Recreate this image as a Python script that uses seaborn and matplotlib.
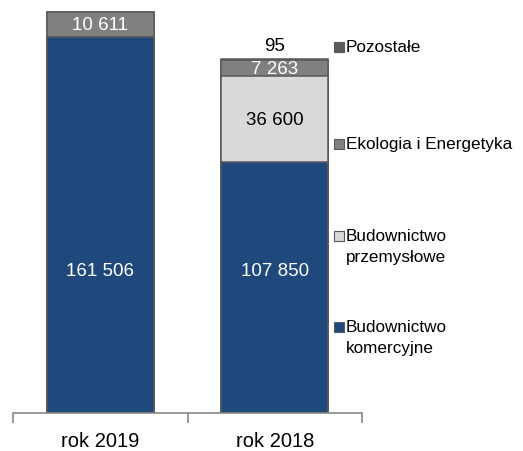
import matplotlib
matplotlib.use("Agg")
import matplotlib.pyplot as plt
import matplotlib.patches as mpatches
import seaborn as sns
import pandas as pd
import numpy as np

# dane
kategorie = ["rok 2019", "rok 2018"]
komercyjne = [161506, 107850]
przemyslowe = [0, 36600]
ekologia = [10611, 7263]
pozostale = [0, 95]

serie = ["Budownictwo\nkomercyjne", "Budownictwo\nprzemysłowe", "Ekologia i Energetyka", "Pozostałe"]
kolory = ["#1F497D", "#D9D9D9", "#808080", "#595959"]

sns.set_style("white")
plt.rcParams["font.family"] = ["Liberation Sans Narrow", "Liberation Sans", "DejaVu Sans"]
plt.rcParams["text.color"] = "black"
plt.rcParams["xtick.color"] = "black"

fig = plt.figure(figsize=(5.23, 4.52), dpi=100)
ax = fig.add_axes([13 / 523, 38 / 452, 349 / 523, 414 / 452])

wartosci = np.array([komercyjne, przemyslowe, ekologia, pozostale])
skum = np.cumsum(wartosci, axis=0)

# slupki skumulowane - od najwyzszego do najnizszego
for i in range(len(serie) - 1, -1, -1):
    df = pd.DataFrame({"kat": kategorie, "v": skum[i]})
    sns.barplot(data=df, x="kat", y="v", order=kategorie, color=kolory[i],
                saturation=1, width=0.616, edgecolor="#595959", linewidth=1.1, ax=ax)

def fmt(v):
    return f"{v:,}".replace(",", " ")

rozm = 13.5
for j in range(len(kategorie)):
    # komercyjne
    ax.text(j, 61000, fmt(komercyjne[j]), ha="center", va="center", color="white", fontsize=rozm)
    if przemyslowe[j] > 0:
        ax.text(j, komercyjne[j] + przemyslowe[j] / 2, fmt(przemyslowe[j]),
                ha="center", va="center", color="black", fontsize=rozm)
    if ekologia[j] > 0:
        ax.text(j, skum[1][j] + ekologia[j] / 2, fmt(ekologia[j]),
                ha="center", va="center", color="white", fontsize=rozm)
    if pozostale[j] > 0:
        ax.annotate(fmt(pozostale[j]), (j, skum[3][j]), xytext=(0, 4), textcoords="offset points",
                    ha="center", va="bottom", color="black", fontsize=rozm)

ax.set_ylim(0, 177700)
ax.set_xlim(-0.5, 1.5)
ax.set_xlabel("")
ax.set_ylabel("")
ax.set_yticks([])
for s in ["top", "right", "left"]:
    ax.spines[s].set_visible(False)
ax.spines["bottom"].set_color("#868686")
ax.spines["bottom"].set_linewidth(1.2)
ax.set_xticks(range(len(kategorie)))
ax.set_xticklabels(kategorie, fontsize=14.5, color="black")
ax.tick_params(axis="x", which="major", bottom=False, length=0, pad=13)
ax.set_xticks([-0.5, 0.5, 1.5], minor=True)
ax.tick_params(axis="x", which="minor", bottom=True, length=7, width=1.2,
               color="#868686", direction="out")

# legenda
legenda_y = [48, 145, 237, 328]
kolejnosc = [3, 2, 1, 0]
for y, i in zip(legenda_y, kolejnosc):
    fig.add_artist(mpatches.Rectangle((334 / 523, 1 - (y + 5) / 452), 10 / 523, 10 / 452,
                                      transform=fig.transFigure, facecolor=kolory[i],
                                      edgecolor="#595959", linewidth=0.8))
    fig.text(346 / 523, 1 - (y - 8) / 452, serie[i], ha="left", va="top",
             fontsize=12.3, linespacing=1.5, color="black")

fig.savefig("out.png", dpi=100)
